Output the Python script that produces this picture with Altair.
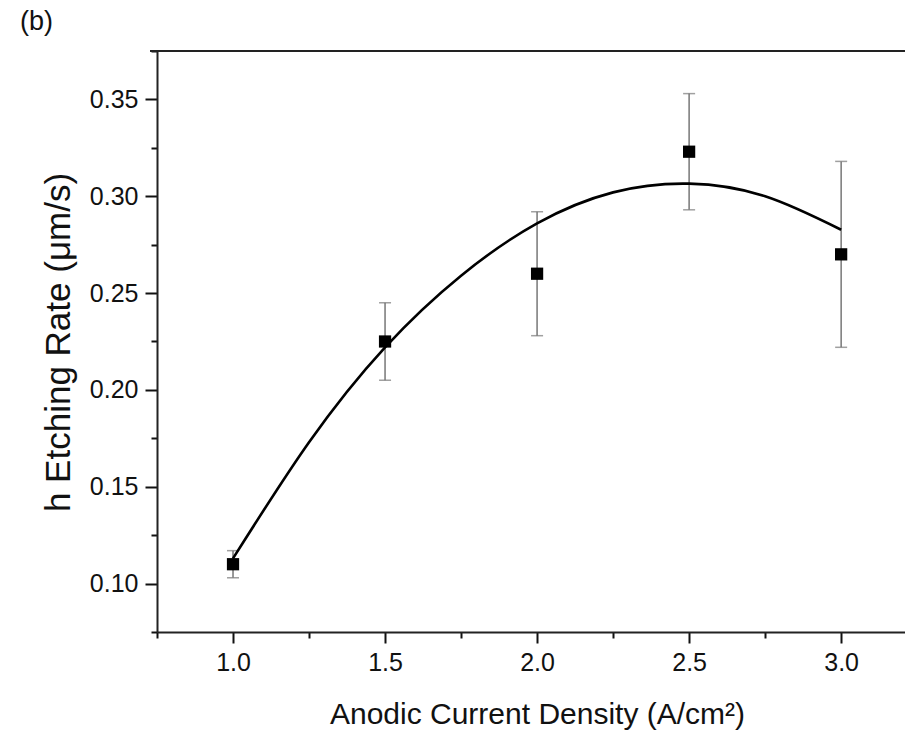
import altair as alt
import pandas as pd

# Measured points
density = [1.0, 1.5, 2.0, 2.5, 3.0]
rate = [0.110, 0.225, 0.260, 0.323, 0.270]
err_low = [0.103, 0.205, 0.228, 0.293, 0.222]
err_high = [0.117, 0.245, 0.292, 0.353, 0.318]

# Fitted curve
fit_x = [1.0, 1.25, 1.5, 1.75, 2.0, 2.25, 2.5, 2.75, 3.0]
fit_y = [0.113, 0.173, 0.222, 0.259, 0.286, 0.302, 0.3065, 0.300, 0.2827]

# Axis ticks (major + minor)
x_ticks = [0.75, 1.0, 1.25, 1.5, 1.75, 2.0, 2.25, 2.5, 2.75, 3.0]
y_ticks = [0.075, 0.1, 0.125, 0.15, 0.175, 0.2, 0.225, 0.25, 0.275, 0.3, 0.325, 0.35, 0.375]

panel_label = ["(b)"]

pts = pd.DataFrame({"x": density, "y": rate, "lo": err_low, "hi": err_high})
fit = pd.DataFrame({"x": fit_x, "y": fit_y})
one = pd.DataFrame({"label": panel_label})

FONT = "Liberation Sans"
W, H = 748, 581

x_major = "abs(datum.value*2 - round(datum.value*2)) < 1e-6"
y_major = "abs(datum.value*20 - round(datum.value*20)) < 1e-6"

x_scale = alt.Scale(domain=[0.75, 3.21], nice=False, zero=False)
y_scale = alt.Scale(domain=[0.075, 0.375], nice=False, zero=False)

x_axis = alt.Axis(
    values=x_ticks,
    labelExpr=f"{x_major} ? format(datum.value, '.1f') : ''",
    tickSize={"condition": {"test": x_major, "value": 11}, "value": 6},
    tickWidth=2, tickColor="#111",
    domainWidth=2, domainColor="#222",
    labelFont=FONT, labelFontSize=25, labelColor="#111", labelPadding=7,
    labelOverlap=False, grid=False,
    title="Anodic Current Density (A/cm²)",
    titleFont=FONT, titleFontSize=30, titleFontWeight="normal", titleColor="#111",
    titleX=380, titleY=91, titleAlign="center", titleBaseline="alphabetic",
)
y_axis = alt.Axis(
    values=y_ticks,
    labelExpr=f"{y_major} ? format(datum.value, '.2f') : ''",
    tickSize={"condition": {"test": y_major, "value": 12}, "value": 6},
    tickWidth=2, tickColor="#111",
    domainWidth=2, domainColor="#222",
    labelFont=FONT, labelFontSize=25, labelColor="#111", labelPadding=7,
    labelOverlap=False, grid=False,
    title="h Etching Rate (μm/s)",
    titleFont=FONT, titleFontSize=35, titleFontWeight="normal", titleColor="#111",
    titleX=-88, titleY=291, titleAngle=-90, titleAlign="center", titleBaseline="alphabetic",
)

base = alt.Chart(pts)

bars = base.mark_rule(color="#777777", strokeWidth=1.5).encode(
    x=alt.X("x:Q", scale=x_scale, axis=x_axis),
    y=alt.Y("lo:Q", scale=y_scale, axis=y_axis),
    y2="hi:Q",
)
caps_lo = base.mark_tick(color="#777777", thickness=1.5, size=12, orient="horizontal").encode(
    x=alt.X("x:Q", scale=x_scale), y=alt.Y("lo:Q", scale=y_scale)
)
caps_hi = base.mark_tick(color="#777777", thickness=1.5, size=12, orient="horizontal").encode(
    x=alt.X("x:Q", scale=x_scale), y=alt.Y("hi:Q", scale=y_scale)
)
curve = alt.Chart(fit).mark_line(color="black", strokeWidth=2.6, interpolate="natural").encode(
    x=alt.X("x:Q", scale=x_scale), y=alt.Y("y:Q", scale=y_scale)
)
squares = base.mark_point(shape="square", filled=True, color="black", size=150, opacity=1).encode(
    x=alt.X("x:Q", scale=x_scale), y=alt.Y("y:Q", scale=y_scale)
)
top_line = alt.Chart(one).mark_rule(color="#222", strokeWidth=2).encode(
    x=alt.value(-7), x2=alt.value(W + 5), y=alt.value(0)
)
panel = alt.Chart(one).mark_text(
    font=FONT, fontSize=27, fontWeight="normal", color="#111", align="left", baseline="alphabetic"
).encode(text="label:N", x=alt.value(-137), y=alt.value(-21))

chart = alt.layer(bars, caps_lo, caps_hi, curve, squares, top_line, panel).properties(
    width=W, height=H,
    autosize=alt.AutoSizeParams(type="none"),
    padding={"left": 157, "top": 51, "right": 0, "bottom": 103},
).configure_view(stroke=None).configure(background="white")

chart.save("out.html", embed_options={"renderer": "svg", "actions": False})
